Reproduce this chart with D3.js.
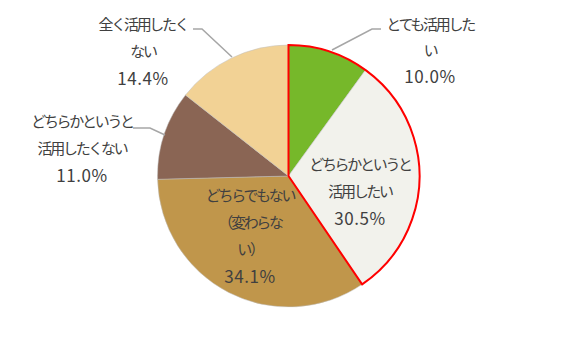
<!DOCTYPE html>
<html><head><meta charset="utf-8">
<script src="https://cdn.jsdelivr.net/npm/d3@7"></script>
<style>body{margin:0;background:#fff}svg{display:block}</style>
</head><body>
<script>
const categories = ["とても活用したい","どちらかというと活用したい","どちらでもない（変わらない）","どちらかというと活用したくない","全く活用したくない"];
const values = [10.0, 30.5, 34.1, 11.0, 14.4];
const labelLines = [
  ["とても活用した","い","10.0%"],
  ["どちらかというと","活用したい","30.5%"],
  ["どちらでもない","（変わらな","い）","34.1%"],
  ["どちらかというと","活用したくない","11.0%"],
  ["全く活用したく","ない","14.4%"]
];
const colors = ["#76b82a","#f2f2ec","#c0964b","#8a6554","#f2d295"];
const W=577,H=352,cx=288.5,cy=176,R=131;
const svg=d3.select("body").append("svg").attr("width",W).attr("height",H);
const g=svg.append("g").attr("transform",`translate(${cx},${cy})`);
const pie=d3.pie().sort(null).value(d=>d)(values);
const arc=d3.arc().innerRadius(0).outerRadius(R);
g.selectAll("path.s").data(pie).join("path").attr("class","s")
 .attr("d",arc).attr("fill",(d,i)=>colors[i]).attr("stroke","#bfbfbf").attr("stroke-width",0.5);
g.append("path").attr("d",arc({startAngle:pie[0].startAngle,endAngle:pie[1].endAngle}))
 .attr("fill","none").attr("stroke","#ff0000").attr("stroke-width",2).attr("stroke-linejoin","miter");
const labelPos=[[430,25],[360,165],[250,196],[82,122],[143,25]];
const lh=[26,27,27,27,27];
const leaders=[
  [[332,50],[372,29],[381,29]],
  null,null,
  [[165,135],[150,128],[133,128]],
  [[232,57],[202,29],[193,29]]
];
leaders.forEach(l=>{ if(!l) return;
  svg.append("path").attr("d",d3.line()(l)).attr("fill","none").attr("stroke","#a6a6a6").attr("stroke-width",1.5);
});
labelLines.forEach((lines,i)=>{
  const t=svg.append("text").attr("text-anchor","middle")
   .attr("font-family","'Noto Sans CJK JP','Noto Sans',sans-serif")
   .attr("fill","#404040");
  lines.forEach((s,j)=>{
    const pct=/%$/.test(s);
    t.append("tspan").attr("x",labelPos[i][0]).attr("y",labelPos[i][1]+j*lh[i]).attr("dy","0.35em")
     .attr("font-size",pct?17:15).attr("letter-spacing",pct?0.6:-2.3).text(s);
  });
});
</script>
</body></html>
